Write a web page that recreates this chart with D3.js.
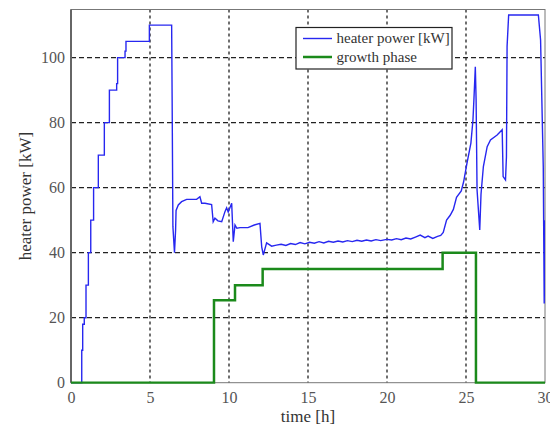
<!DOCTYPE html>
<html>
  <head>
    <meta charset="utf-8">
    <title>Heater power</title>
    <script src="https://d3js.org/d3.v7.min.js"></script>
    <style>
      body { margin: 0; background: #fff; }
      svg { display: block; }
      .tick text { font-family: "Liberation Serif", serif; font-size: 16px; fill: #555; }
      .label { font-family: "Liberation Serif", serif; font-size: 17px; fill: #333; }
      .legend text { font-family: "Liberation Serif", serif; font-size: 15px; fill: #333; }
    </style>
  </head>
  <body>
    <div id="chart"></div>
    <script>
      // heater power [kW] over time [h]
      var heaterTime = [0, 0.68, 0.68, 0.74, 0.74, 0.84, 0.84, 0.95, 0.95, 1.10, 1.10, 1.25, 1.25,
        1.43, 1.43, 1.73, 1.73, 2.11, 2.11, 2.43, 2.43, 2.89, 2.89, 2.95, 2.95, 3.42, 3.42, 3.48,
        3.48, 4.96, 4.96, 6.37, 6.40, 6.45, 6.55, 6.62, 6.65, 6.79, 7.0, 7.32, 7.95, 8.16, 8.27,
        8.48, 8.9, 9.0, 9.11, 9.3, 9.54, 9.75, 9.85, 9.95, 10.17, 10.27, 10.38, 10.5, 10.7, 11.2,
        11.6, 11.96, 12.07, 12.17, 12.38, 12.7, 13.0, 13.3, 13.6, 13.9, 14.2, 14.5, 14.8, 15.1,
        15.4, 15.7, 16.0, 16.3, 16.6, 16.9, 17.2, 17.5, 17.8, 18.1, 18.4, 18.7, 19.0, 19.3, 19.6,
        19.98, 20.3, 20.6, 20.9, 21.2, 21.5, 21.8, 22.1, 22.4, 22.6, 22.9, 23.2, 23.4, 23.56,
        23.77, 24.0, 24.2, 24.4, 24.7, 24.85, 25.06, 25.31, 25.44, 25.5, 25.59, 25.64, 25.7,
        25.87, 25.95, 26.1, 26.34, 26.55, 26.97, 27.29, 27.35, 27.5, 27.56, 27.6, 27.7, 29.58,
        29.72, 29.89, 29.95, 29.99, 30];
      var heaterPower = [0, 0, 10, 10, 18, 18, 20, 20, 30, 30, 40, 40, 50,
        50, 60, 60, 70, 70, 80, 80, 90, 90, 92, 92, 100, 100, 102, 102,
        105, 105, 110, 110, 88, 48, 40, 47, 53, 54.7, 55.7, 56.4, 56.4, 57.2, 55.2,
        55.2, 54.8, 49.5, 50.6, 49.8, 49.5, 52.7, 53.8, 52.5, 55.2, 43.4, 48.5, 47.5, 47.7, 47.7,
        48.5, 49, 41.8, 39.3, 43, 42, 42.3, 42.6, 42.2, 42.8, 42.5, 43.1, 42.7, 43.2,
        42.9, 43.4, 43.0, 43.5, 43.2, 43.6, 43.3, 43.7, 43.4, 43.8, 43.5, 43.9, 43.6, 44.0, 43.7,
        44.1, 43.9, 44.3, 44.0, 44.5, 44.2, 44.8, 45.4, 44.6, 45.1, 44.4, 45.0, 45.3, 46.2,
        50, 51.5, 53.3, 57, 59, 61.8, 67.5, 73.7, 80.8, 87, 97.2, 87, 59.3,
        47, 58, 66.5, 72.6, 74.7, 76.2, 77.8, 63.4, 62.4, 69.5, 103.4, 113.1, 113.1,
        105.4, 66.5, 24.4, 47, 50];

      // growth phase (step after each time)
      var phaseTime = [0, 9.05, 10.38, 12.13, 23.52, 25.63, 30];
      var phaseValue = [0, 25.4, 30, 35, 40, 0, 0];

      var xTicks = [0, 5, 10, 15, 20, 25, 30];
      var yTicks = [0, 20, 40, 60, 80, 100];
      var legendLabels = ["heater power [kW]", "growth phase"];

      var width = 550, height = 428;
      var margin = {top: 9.5, right: 5, bottom: 45.3, left: 71};
      var w = width - margin.left - margin.right;
      var h = height - margin.top - margin.bottom;

      var svg = d3.select("#chart").append("svg")
        .attr("width", width).attr("height", height);

      svg.append("defs").append("clipPath").attr("id", "clip")
        .append("rect").attr("width", w).attr("height", h + 2).attr("y", -1);

      var g = svg.append("g")
        .attr("transform", "translate(" + margin.left + "," + margin.top + ")");

      var x = d3.scaleLinear().domain([0, 30]).range([0, w]);
      var y = d3.scaleLinear().domain([0, 114.8]).range([h, 0]);

      // grid
      g.append("g").selectAll("line").data(xTicks.slice(1, -1)).enter().append("line")
        .attr("x1", function (d) { return x(d); }).attr("x2", function (d) { return x(d); })
        .attr("y1", 0).attr("y2", h)
        .style("stroke", "#222").style("stroke-width", 1.3).style("stroke-dasharray", "3,3");
      g.append("g").selectAll("line").data(yTicks.slice(1)).enter().append("line")
        .attr("y1", function (d) { return y(d); }).attr("y2", function (d) { return y(d); })
        .attr("x1", 0).attr("x2", w)
        .style("stroke", "#222").style("stroke-width", 1.3).style("stroke-dasharray", "5,3");

      // frame
      g.append("rect").attr("width", w).attr("height", h)
        .style("fill", "none").style("stroke", "#777").style("stroke-width", 1);
      g.append("line").attr("x1", 0).attr("x2", 0).attr("y1", 0).attr("y2", h)
        .style("stroke", "#666").style("stroke-width", 2);

      // axes
      var xAxis = g.append("g").attr("transform", "translate(0," + h + ")")
        .call(d3.axisBottom(x).tickValues(xTicks).tickSize(0).tickPadding(9));
      var yAxis = g.append("g")
        .call(d3.axisLeft(y).tickValues(yTicks).tickSize(0).tickPadding(6));
      xAxis.select(".domain").remove();
      yAxis.select(".domain").remove();

      // lines
      var heater = heaterTime.map(function (t, i) { return [t, heaterPower[i]]; });
      var phase = phaseTime.map(function (t, i) { return [t, phaseValue[i]]; });

      var line = d3.line()
        .x(function (d) { return x(d[0]); })
        .y(function (d) { return y(d[1]); });

      var plot = g.append("g").attr("clip-path", "url(#clip)");
      plot.append("path").datum(heater).attr("d", line)
        .style("fill", "none").style("stroke", "#2727f0").style("stroke-width", 1.4);
      plot.append("path").datum(phase).attr("d", line.curve(d3.curveStepAfter))
        .style("fill", "none").style("stroke", "#1b8a1b").style("stroke-width", 2.5);

      // labels
      svg.append("text").attr("class", "label")
        .attr("x", margin.left + w / 2).attr("y", 422)
        .attr("text-anchor", "middle").text("time [h]");
      svg.append("text").attr("class", "label")
        .attr("transform", "translate(31," + (margin.top + h / 2) + ") rotate(-90)")
        .attr("text-anchor", "middle").text("heater power [kW]");

      // legend
      var legend = svg.append("g").attr("class", "legend").attr("transform", "translate(296,27.5)");
      legend.append("rect").attr("width", 156).attr("height", 41.5)
        .style("fill", "#fff").style("stroke", "#222").style("stroke-width", 1.2);
      var colors = ["#2727f0", "#1b8a1b"], widths = [1.4, 2.5];
      legendLabels.forEach(function (name, i) {
        var yy = 11 + i * 18.5;
        legend.append("line").attr("x1", 7).attr("x2", 36).attr("y1", yy).attr("y2", yy)
          .style("stroke", colors[i]).style("stroke-width", widths[i]);
        legend.append("text").attr("x", 40.5).attr("y", yy + 4.5).text(name);
      });
    </script>
  </body>
</html>
